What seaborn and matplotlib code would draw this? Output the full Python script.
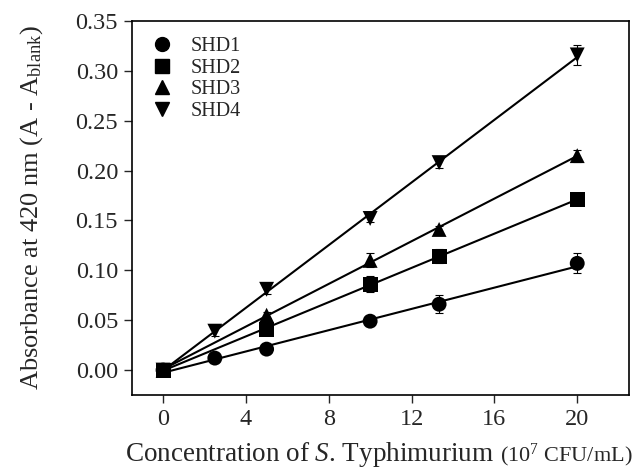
import numpy as np
import pandas as pd
import matplotlib
matplotlib.use("Agg")
import matplotlib.pyplot as plt
import seaborn as sns

# Data
series = ["SHD1", "SHD2", "SHD3", "SHD4"]
x_shd1 = [0, 2.5, 5, 10, 13.33, 20]
y_shd1 = [0.000, 0.012, 0.021, 0.049, 0.066, 0.107]
e_shd1 = [0.002, 0.002, 0.002, 0.002, 0.009, 0.010]
x_shd2 = [0, 5, 10, 13.33, 20]
y_shd2 = [0.000, 0.041, 0.086, 0.114, 0.171]
e_shd2 = [0.002, 0.004, 0.008, 0.007, 0.004]
x_shd3 = [0, 5, 10, 13.33, 20]
y_shd3 = [0.000, 0.055, 0.110, 0.141, 0.215]
e_shd3 = [0.002, 0.003, 0.007, 0.003, 0.006]
x_shd4 = [0, 2.5, 5, 10, 13.33, 20]
y_shd4 = [0.000, 0.039, 0.081, 0.152, 0.208, 0.316]
e_shd4 = [0.002, 0.005, 0.005, 0.004, 0.005, 0.010]
x_ticks = [0, 4, 8, 12, 16, 20]
y_ticks = [0.00, 0.05, 0.10, 0.15, 0.20, 0.25, 0.30, 0.35]

xs = [x_shd1, x_shd2, x_shd3, x_shd4]
ys = [y_shd1, y_shd2, y_shd3, y_shd4]
es = [e_shd1, e_shd2, e_shd3, e_shd4]
markers = {"SHD1": "o", "SHD2": "s", "SHD3": "^", "SHD4": "v"}

df = pd.concat([pd.DataFrame({"x": x, "y": y, "err": e, "series": s})
                for s, x, y, e in zip(series, xs, ys, es)], ignore_index=True)

sns.set_style("ticks")
plt.rcParams["font.family"] = ["Liberation Serif", "DejaVu Serif"]
plt.rcParams["mathtext.fontset"] = "custom"
plt.rcParams["mathtext.rm"] = "Liberation Serif"
plt.rcParams["mathtext.it"] = "Liberation Serif:italic"

W, H = 641, 471
fig = plt.figure(figsize=(W / 100, H / 100), dpi=100)
ax = fig.add_axes([132 / W, 1 - 395 / H, (629 - 132) / W, (395 - 21) / H])

for s in series:
    d = df[df.series == s]
    sns.regplot(data=d, x="x", y="y", scatter=False, ci=None, truncate=True,
                color="black", line_kws={"lw": 1.5}, ax=ax)
    ax.errorbar(d.x, d.y, yerr=d.err, fmt="none", ecolor="black",
                elinewidth=0.8, capsize=3, capthick=0.8, zorder=3)

sns.scatterplot(data=df, x="x", y="y", style="series", markers=markers,
                color="black", s=115, edgecolor="black", linewidth=0,
                ax=ax, zorder=4, legend=False)

handles = [plt.Line2D([], [], marker=markers[s], color="black", ls="none",
                      markersize=10) for s in series]
ax.legend(handles, series, loc="upper left", frameon=False, fontsize=14.5,
          bbox_to_anchor=(0.0, 1.0), handletextpad=0.7, labelspacing=0.12,
          borderaxespad=0.4, handlelength=1.4)

ax.set_xlim(-1.5, 22.5)
ax.set_ylim(-0.025, 0.35)
ax.set_xticks(x_ticks)
ax.set_yticks(y_ticks)
ax.set_xticklabels([str(t) for t in x_ticks])
ax.set_yticklabels([f"{t:.2f}" for t in y_ticks])
ax.tick_params(direction="out", length=6, width=1, labelsize=17.5, pad=4,
               top=False, right=False)
for sp in ax.spines.values():
    sp.set_visible(True)
    sp.set_linewidth(1.2)
    sp.set_color("black")

ax.set_xlabel("")
ax.set_ylabel(r"Absorbance at 420 nm (A - A$_{\rm blank}$)", fontsize=19,
              labelpad=22)

# x label in two sizes
fig.canvas.draw()
r = fig.canvas.get_renderer()
t1 = fig.text(0, 0, r"Concentration of $\it{S}$. Typhimurium", fontsize=19.5,
              va="baseline", ha="left")
t2 = fig.text(0, 0, r"(10$^{7}$ CFU/mL)", fontsize=16, va="baseline",
              ha="left")
w1 = t1.get_window_extent(r).width
x0 = 125
yb = 1 - 461 / H
t1.set_position((x0 / W, yb))
t2.set_position(((x0 + w1 + 6) / W, yb))

fig.savefig("out.png", dpi=100)
